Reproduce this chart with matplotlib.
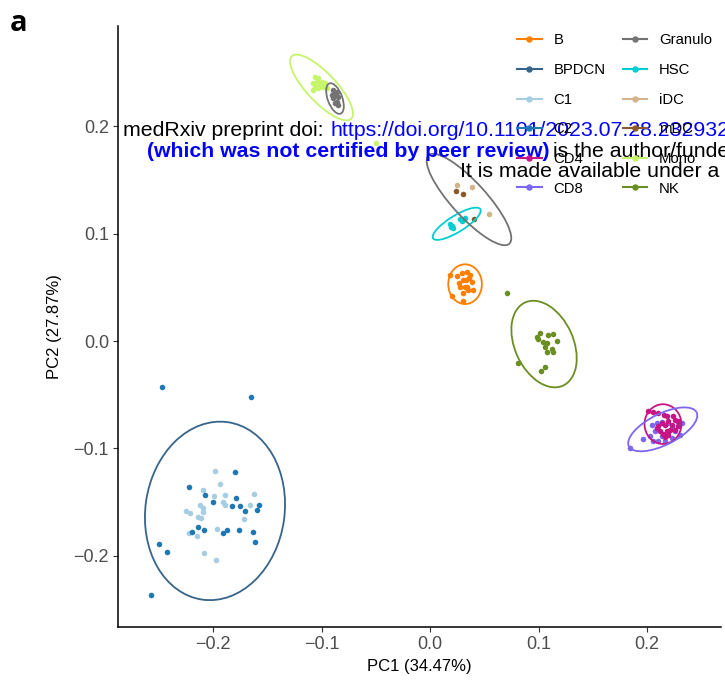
import matplotlib
matplotlib.use('Agg')
import matplotlib.pyplot as plt
from matplotlib.patches import Ellipse
from matplotlib.lines import Line2D

plt.rcParams['font.family'] = ['Liberation Sans', 'DejaVu Sans']

# ---------------- data ----------------
legend_groups = ['B', 'BPDCN', 'C1', 'C2', 'CD4', 'CD8',
                 'Granulo', 'HSC', 'iDC', 'mDC', 'Mono', 'NK']
group_colors = {
    'B': '#FF7F00', 'BPDCN': '#36648B', 'C1': '#A6CEE3', 'C2': '#1F78B4',
    'CD4': '#C71585', 'CD8': '#7B68EE', 'Granulo': '#737373', 'HSC': '#00CED1',
    'iDC': '#D2B48C', 'mDC': '#8B5A2B', 'Mono': '#C6F46A', 'NK': '#6B8E23',
    'DC': '#737373',
}

b_x = [0.0184, 0.0252, 0.0298, 0.0338, 0.0369, 0.0307, 0.0384, 0.0344, 0.0276,
       0.0323, 0.0399, 0.0353, 0.0307, 0.0200, 0.0307, 0.0362, 0.0270, 0.0330]
b_y = [0.0615, 0.0606, 0.0631, 0.0646, 0.0615, 0.0568, 0.0553, 0.0506, 0.0506,
       0.0500, 0.0475, 0.0475, 0.0450, 0.0419, 0.0376, 0.0584, 0.0540, 0.0570]

c1_x = [-0.1984, -0.1935, -0.2095, -0.1988, -0.1887, -0.1625, -0.2120, -0.1905,
        -0.1889, -0.1659, -0.2095, -0.2252, -0.2212, -0.2089, -0.2138, -0.2113,
        -0.1712, -0.1966, -0.2221, -0.2150, -0.2083, -0.1970]
c1_y = [-0.1214, -0.1333, -0.1389, -0.1445, -0.1432, -0.1426, -0.1528, -0.1503,
        -0.1531, -0.1531, -0.1554, -0.1584, -0.1600, -0.1596, -0.1637, -0.1647,
        -0.1662, -0.1749, -0.1792, -0.1815, -0.1979, -0.2038]

c2_x = [-0.2473, -0.1653, -0.1797, -0.2218, -0.2071, -0.2003, -0.1788, -0.1828,
        -0.1751, -0.1705, -0.1573, -0.1592, -0.2141, -0.2196, -0.2083, -0.1911,
        -0.1874, -0.1760, -0.1629, -0.1610, -0.2495, -0.2424, -0.2571]
c2_y = [-0.0431, -0.0519, -0.1224, -0.1363, -0.1432, -0.1503, -0.1466, -0.1538,
        -0.1535, -0.1584, -0.1528, -0.1575, -0.1736, -0.1777, -0.1761, -0.1792,
        -0.1761, -0.1764, -0.1777, -0.1876, -0.1892, -0.1964, -0.2370]

cd4_x = [0.2006, 0.2058, 0.2104, 0.2159, 0.2182, 0.2242, 0.2196, 0.2258, 0.2288,
         0.2135, 0.2166, 0.2228, 0.2089, 0.2120, 0.2182, 0.2212, 0.2258, 0.2150,
         0.2196, 0.2166, 0.2288, 0.2104]
cd4_y = [-0.0655, -0.0662, -0.0671, -0.0692, -0.0702, -0.0702, -0.0748, -0.0733,
         -0.0748, -0.0764, -0.0780, -0.0780, -0.0811, -0.0842, -0.0842, -0.0827,
         -0.0827, -0.0867, -0.0873, -0.0897, -0.0795, -0.0795]

cd8_x = [0.2043, 0.2089, 0.2135, 0.2196, 0.2288, 0.2320, 0.2074, 0.2228, 0.2258,
         0.2304, 0.1966, 0.2058, 0.2104, 0.2166, 0.2228, 0.2135, 0.1843, 0.2028,
         0.2196]
cd8_y = [-0.0780, -0.0764, -0.0755, -0.0764, -0.0755, -0.0764, -0.0842, -0.0811,
         -0.0842, -0.0873, -0.0911, -0.0935, -0.0935, -0.0929, -0.0904, -0.0888,
         -0.0997, -0.0888, -0.0857]

granulo_x = [-0.0891, -0.0860, -0.0876, -0.0845, -0.0891, -0.0854, -0.0876,
             -0.0845, -0.0866, -0.0906]
granulo_y = [0.2339, 0.2323, 0.2293, 0.2277, 0.2262, 0.2230, 0.2215, 0.2199,
             0.2308, 0.2293]

hsc_x = [0.0184, 0.0200, 0.0215, 0.0190, 0.0276, 0.0307, 0.0323, 0.0292]
hsc_y = [0.1090, 0.1070, 0.1050, 0.1060, 0.1134, 0.1128, 0.1143, 0.1118]

idc_x = [0.0246, 0.0384, 0.0547]
idc_y = [0.1450, 0.1440, 0.1180]

mdc_x = [0.0240, 0.0307, 0.0406]
mdc_y = [0.1400, 0.1370, 0.1134]

mono_x = [-0.1060, -0.1029, -0.1076, -0.1044, -0.1014, -0.0983, -0.1029, -0.0998,
          -0.0968, -0.1060, -0.1076, -0.0952, -0.0498]
mono_y = [0.2463, 0.2448, 0.2402, 0.2417, 0.2386, 0.2370, 0.2355, 0.2417,
          0.2402, 0.2370, 0.2339, 0.2355, 0.1842]

nk_x = [0.0712, 0.1014, 0.1090, 0.1131, 0.0998, 0.1044, 0.1076, 0.1168, 0.1060,
        0.1122, 0.1076, 0.1136, 0.0814, 0.1060, 0.1020, 0.0983]
nk_y = [0.0450, 0.0077, 0.0056, 0.0065, 0.0016, -0.0007, -0.0021, 0.0003, -0.0053,
        -0.0077, -0.0100, -0.0100, -0.0208, -0.0240, -0.0282, 0.0034]

point_groups = {
    'C1': (c1_x, c1_y), 'C2': (c2_x, c2_y), 'B': (b_x, b_y),
    'NK': (nk_x, nk_y), 'HSC': (hsc_x, hsc_y), 'iDC': (idc_x, idc_y),
    'mDC': (mdc_x, mdc_y), 'Mono': (mono_x, mono_y),
    'Granulo': (granulo_x, granulo_y), 'CD8': (cd8_x, cd8_y),
    'CD4': (cd4_x, cd4_y),
}

# confidence ellipses (center x, center y, full major, full minor, angle deg)
ell_group = ['BPDCN', 'B', 'NK', 'HSC', 'DC', 'Mono', 'Granulo', 'CD4', 'CD8']
ell_cx = [-0.1982, 0.0323, 0.1051, 0.0246, 0.0359, -0.1000, -0.0876, 0.2147, 0.2145]
ell_cy = [-0.1583, 0.0530, -0.0028, 0.1093, 0.1319, 0.2363, 0.2260, -0.0774, -0.0823]
ell_w = [0.1670, 0.0310, 0.0850, 0.0513, 0.1110, 0.0800, 0.0300, 0.0340, 0.0700]
ell_h = [0.1283, 0.0370, 0.0540, 0.0152, 0.0320, 0.0270, 0.0134, 0.0370, 0.0289]
ell_angle = [82, 0, -66, 32, -48, -47, -70, 0, 27]

x_ticks = [-0.2, -0.1, 0.0, 0.1, 0.2]
y_ticks = [-0.2, -0.1, 0.0, 0.1, 0.2]
x_label = 'PC1 (34.47%)'
y_label = 'PC2 (27.87%)'

# ---------------- figure ----------------
W, H = 725, 680
fig = plt.figure(figsize=(W / 100, H / 100), dpi=100)
ax = fig.add_axes([118 / W, 53 / H, (721 - 118) / W, (627 - 26) / H])
ax.set_xlim(-0.2876, 0.2682)
ax.set_ylim(-0.2665, 0.2936)

for g, (xs, ys) in point_groups.items():
    ax.scatter(xs, ys, s=16, color=group_colors[g], linewidths=0, zorder=3)

for g, cx, cy, w, h, a in zip(ell_group, ell_cx, ell_cy, ell_w, ell_h, ell_angle):
    ax.add_patch(Ellipse((cx, cy), w, h, angle=a, fill=False,
                         edgecolor=group_colors[g], linewidth=1.3, zorder=4))

for s in ['top', 'right']:
    ax.spines[s].set_visible(False)
for s in ['left', 'bottom']:
    ax.spines[s].set_linewidth(1.1)
    ax.spines[s].set_color('black')

ax.set_xticks(x_ticks)
ax.set_yticks(y_ticks)
ax.set_xticklabels([f'{v:.1f}'.replace('-', '\u2212') for v in x_ticks])
ax.set_yticklabels([f'{v:.1f}'.replace('-', '\u2212') for v in y_ticks])
ax.tick_params(axis='both', length=3.5, width=0.8, color='#333333',
               labelsize=13, labelcolor='#4D4D4D', pad=3)
ax.set_xlabel(x_label, fontsize=12, color='black', labelpad=4)
ax.set_ylabel(y_label, fontsize=12, color='black', labelpad=8)

# legend
handles = [Line2D([], [], color=group_colors[g], marker='o', markersize=3.6,
                  linewidth=1.5) for g in legend_groups]
fig.legend(handles, legend_groups, ncol=2, loc='upper left',
           bbox_to_anchor=(517 / W, 1 - 33.5 / H), frameon=False,
           fontsize=10.7, borderpad=0, borderaxespad=0, handlelength=1.65,
           handletextpad=0.8, columnspacing=1.15, labelspacing=1.05)

# panel letter
fig.text(10 / W, 1 - 31 / H, 'a', fontsize=21, fontweight='bold',
         family=['Open Sans', 'DejaVu Sans'], va='baseline', ha='left')

# preprint header overlay
wm = 15.3
fig.text(123 / W, 1 - 136 / H, 'medRxiv preprint doi: ', fontsize=wm,
         color='black', va='baseline', ha='left')
fig.text(330 / W, 1 - 136 / H, 'https://doi.org/10.1101/2023.07.28.23293297',
         fontsize=wm, color='#0000FF', va='baseline', ha='left')
fig.text(147 / W, 1 - 157 / H, '(which was not certified by peer review)',
         fontsize=wm, fontweight='bold', color='#0000FF', va='baseline', ha='left')
fig.text(553 / W, 1 - 157 / H, 'is the author/funder',
         fontsize=wm, color='black', va='baseline', ha='left')
fig.text(460 / W, 1 - 177 / H, 'It is made available under a',
         fontsize=wm, color='black', va='baseline', ha='left')

fig.savefig('out.png', dpi=100)
